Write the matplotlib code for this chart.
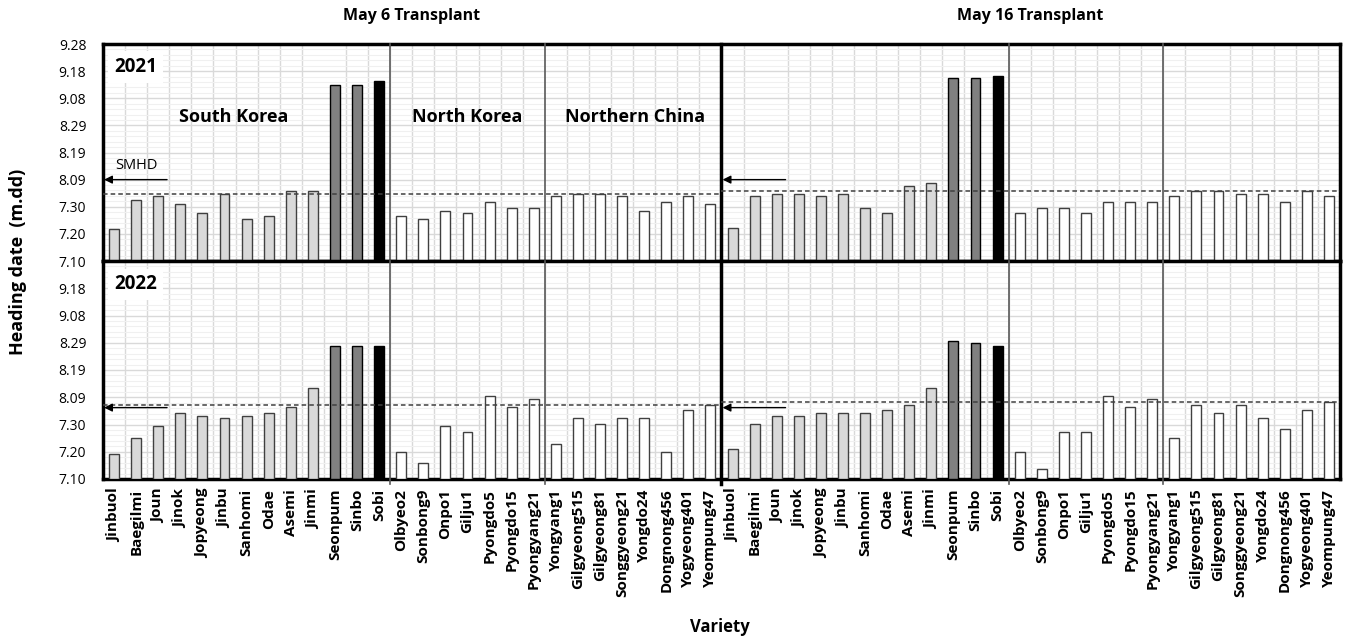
import numpy as np
import matplotlib
matplotlib.use('Agg')
from matplotlib import pyplot as plt
from matplotlib.ticker import MultipleLocator

plt.rcParams['font.family'] = ['Open Sans', 'DejaVu Sans']

# varieties by origin
south_korea = ['Jinbuol', 'Baegilmi', 'Joun', 'Jinok', 'Jopyeong', 'Jinbu', 'Sanhomi',
               'Odae', 'Asemi', 'Jinmi', 'Seonpum', 'Sinbo', 'Sobi']
north_korea = ['Olbyeo2', 'Sonbong9', 'Onpo1', 'Gilju1', 'Pyongdo5', 'Pyongdo15', 'Pyongyang21']
northern_china = ['Yongyang1', 'Gilgyeong515', 'Gilgyeong81', 'Songgyeong21', 'Yongdo24',
                  'Dongnong456', 'Yogyeong401', 'Yeompung47']
varieties = south_korea + north_korea + northern_china

# heading date, days after 10 July (same order as varieties)
hd_2021_may6 = [11.7, 22.6, 23.8, 20.9, 17.8, 24.6, 15.6, 16.7, 25.8, 25.8, 65.0, 65.0, 66.3,
                16.7, 15.4, 18.5, 17.8, 21.6, 19.6, 19.6,
                23.8, 24.6, 24.6, 23.8, 18.5, 21.6, 23.8, 20.9]
hd_2021_may16 = [12.3, 23.8, 24.6, 24.6, 23.8, 24.6, 19.6, 17.8, 27.6, 28.8, 67.3, 67.3, 68.1,
                 17.8, 19.6, 19.6, 17.8, 21.6, 21.6, 21.6,
                 23.8, 25.7, 25.7, 24.6, 24.6, 21.6, 25.7, 23.8]
hd_2022_may6 = [9.1, 15.2, 19.4, 24.2, 23.1, 22.4, 23.1, 24.2, 26.5, 33.3, 48.7, 48.7, 48.7,
                9.8, 5.8, 19.4, 17.1, 30.4, 26.6, 29.5,
                12.9, 22.4, 20.2, 22.4, 22.4, 9.8, 25.3, 27.3]
hd_2022_may16 = [11.1, 20.2, 23.1, 23.1, 24.2, 24.2, 24.2, 25.3, 27.2, 33.3, 50.7, 49.8, 48.7,
                 9.8, 3.8, 17.1, 17.1, 30.4, 26.6, 29.5,
                 15.2, 27.3, 24.2, 27.3, 22.4, 18.2, 25.3, 28.4]

# dashed reference line per panel (days after 10 July)
ref_2021 = [24.6, 25.7]
ref_2022 = [27.3, 28.4]
# SMHD arrow level
smhd_2021 = 30.0
smhd_2022 = 26.2

ytick_labels = ['7.10', '7.20', '7.30', '8.09', '8.19', '8.29', '9.08', '9.18', '9.28']

n = len(varieties)
face = ['#d9d9d9'] * 10 + ['#808080'] * 2 + ['black'] + ['white'] * (len(north_korea) + len(northern_china))
edge = ['#404040'] * 10 + ['black'] * 3 + ['#404040'] * (len(north_korea) + len(northern_china))

W, H = 1348, 641
fig = plt.figure(figsize=(W / 100, H / 100), dpi=100)


def px_axes(x0, y0, x1, y1):
    return fig.add_axes([x0 / W, 1 - y1 / H, (x1 - x0) / W, (y1 - y0) / H])


ax_top = px_axes(103, 44, 1340, 261)
ax_bot = px_axes(103, 261, 1340, 479)

rows = [(ax_top, hd_2021_may6 + hd_2021_may16, ref_2021, smhd_2021, '2021'),
        (ax_bot, hd_2022_may6 + hd_2022_may16, ref_2022, smhd_2022, '2022')]

for ax, vals, ref, smhd, year in rows:
    x = np.arange(2 * n) + 0.5
    ax.bar(x, vals, width=0.45, color=face * 2, edgecolor=edge * 2, linewidth=1, zorder=3)
    ax.set_xlim(0, 2 * n)
    ax.set_ylim(0, 80)
    ax.set_yticks(np.arange(0, 81, 10))
    ax.yaxis.set_minor_locator(MultipleLocator(2))
    ax.set_xticks(np.arange(0, 2 * n + 1), minor=True)
    ax.grid(which='major', axis='y', color='#d9d9d9', lw=1, zorder=0)
    ax.grid(which='minor', axis='y', color='#f0f0f0', lw=0.8, zorder=0)
    ax.grid(which='minor', axis='x', color='#d9d9d9', lw=1, zorder=0)
    ax.set_axisbelow(True)
    ax.tick_params(which='both', length=0)
    ax.tick_params(axis='y', labelsize=10, pad=12)
    for s in ax.spines.values():
        s.set_linewidth(2.5)

    # group separators
    low = -2 if ax is ax_bot else 0
    for b in [13, 20, 41, 48]:
        ax.plot([b, b], [low, 80], color='#595959', lw=1.2, zorder=4, clip_on=False)
    ax.plot([28, 28], [low, 80], color='black', lw=2.5, zorder=4, clip_on=False)

    # reference lines and SMHD arrows
    for k in range(2):
        ax.plot([28 * k, 28 * (k + 1)], [ref[k], ref[k]], ls=(0, (3, 2)), color='#404040', lw=1.1, zorder=5)
        ax.annotate('', xy=(28 * k + 0.05, smhd), xytext=(28 * k + 2.9, smhd),
                    arrowprops=dict(arrowstyle='-|>', color='black', lw=1, mutation_scale=12,
                                    shrinkA=0, shrinkB=0), zorder=6)

    ax.text(0.5, 71.5, year, fontsize=13.5, fontweight='bold', va='center', ha='left', zorder=6,
            bbox=dict(facecolor='white', edgecolor='none', pad=4))

ax_top.set_yticklabels(ytick_labels)
ax_bot.set_yticklabels(ytick_labels[:-1] + [''])
ax_top.tick_params(axis='x', labelbottom=False, length=0)
ax_bot.set_xticks(np.arange(2 * n) + 0.5)
ax_bot.set_xticklabels(varieties * 2, rotation=90, fontsize=11, fontweight='bold')
ax_bot.tick_params(axis='x', pad=7)

ax_top.text(1.5, 35.2, 'SMHD', fontsize=10.5, ha='center', va='center', zorder=6)
ax_top.text(5.9, 53, 'South Korea', fontsize=13, fontweight='bold', ha='center', va='center')
ax_top.text(16.5, 53, 'North Korea', fontsize=13, fontweight='bold', ha='center', va='center')
ax_top.text(24.1, 53, 'Northern China', fontsize=13, fontweight='bold', ha='center', va='center')

fig.text(412 / W, 1 - 16 / H, 'May 6 Transplant', fontsize=11.5, fontweight='bold', ha='center', va='center')
fig.text(1030 / W, 1 - 16 / H, 'May 16 Transplant', fontsize=11.5, fontweight='bold', ha='center', va='center')
fig.text(18 / W, 1 - 262 / H, 'Heading date  (m.dd)', fontsize=13, fontweight='bold',
         rotation=90, ha='center', va='center')
fig.text(720 / W, 1 - 627 / H, 'Variety', fontsize=12, fontweight='bold', ha='center', va='center')

fig.savefig('out.png', dpi=100)
